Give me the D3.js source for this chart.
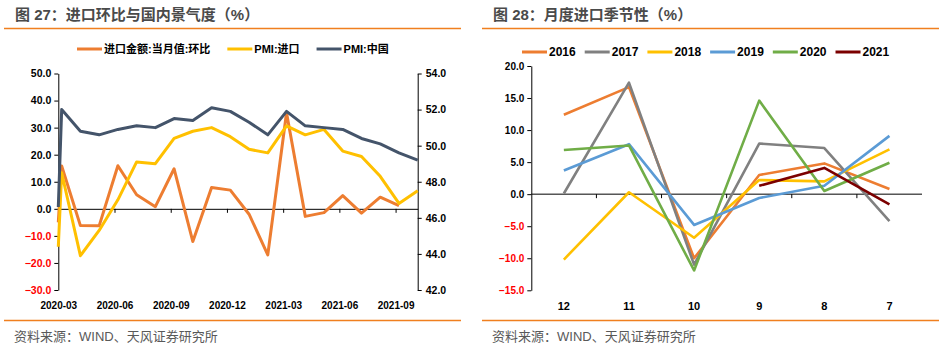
<!DOCTYPE html>
<html>
<head>
<meta charset="utf-8">
<script src="https://cdn.jsdelivr.net/npm/d3@7"></script>
<style>
  body { margin: 0; background: #fff; }
  svg { display: block; font-family: "Liberation Sans", "Noto Sans CJK SC", sans-serif; }
</style>
</head>
<body>
<script>
// ---- left chart data (figure 27) ----
const months = ['2020-02', '2020-03', '2020-04', '2020-05', '2020-06', '2020-07', '2020-08',
  '2020-09', '2020-10', '2020-11', '2020-12', '2021-01', '2021-02', '2021-03', '2021-04',
  '2021-05', '2021-06', '2021-07', '2021-08', '2021-09', '2021-10'];
const importMoM = [-5, 15.8, -6.2, -6.3, 15.9, 5.2, 0.8, 14.8, -12.1, 7.9, 6.9, -2.0, -17.0,
  35.5, -2.8, -1.4, 4.9, -1.6, 4.3, 1.2, null];
const pmiImport = [44.4, 48.5, 43.9, 45.3, 47.0, 49.1, 49.0, 50.4, 50.8, 51.0, 50.5, 49.8, 49.6,
  51.1, 50.6, 50.9, 49.7, 49.4, 48.3, 46.8, 47.5];
const pmiChina = [46.6, 52.0, 50.8, 50.6, 50.9, 51.1, 51.0, 51.5, 51.4, 52.1, 51.9, 51.3, 50.6,
  51.9, 51.1, 51.0, 50.9, 50.4, 50.1, 49.6, 49.2];
const leftTicks = [-30, -20, -10, 0, 10, 20, 30, 40, 50];
const rightTicks = [42, 44, 46, 48, 50, 52, 54];
const leftSeries = [
  { name: '进口金额:当月值:环比', values: importMoM, axis: 'L', color: '#ED7D31' },
  { name: 'PMI:进口', values: pmiImport, axis: 'R', color: '#FFC000' },
  { name: 'PMI:中国', values: pmiChina, axis: 'R', color: '#44546A' }
];

// ---- right chart data (figure 28) ----
const seasonMonths = ['12', '11', '10', '9', '8', '7'];
const y2016 = [12.4, 16.7, -10.0, 3.0, 4.8, 0.8];
const y2017 = [0.1, 17.4, -11.0, 7.9, 7.2, -4.2];
const y2018 = [-10.2, 0.3, -6.8, 2.2, 2.0, 7.0];
const y2019 = [3.7, 7.8, -4.8, -0.6, 1.3, 9.1];
const y2020 = [6.9, 7.6, -11.9, 14.6, 0.5, 4.9];
const y2021 = [null, null, null, 1.3, 4.1, -1.6];
const seasonTicks = [-15, -10, -5, 0, 5, 10, 15, 20];
const years = [
  { name: '2016', values: y2016, color: '#ED7D31' },
  { name: '2017', values: y2017, color: '#808080' },
  { name: '2018', values: y2018, color: '#FFC000' },
  { name: '2019', values: y2019, color: '#5B9BD5' },
  { name: '2020', values: y2020, color: '#70AD47' },
  { name: '2021', values: y2021, color: '#7B0000' }
];

const svg = d3.select('body').append('svg')
  .attr('width', 948)
  .attr('height', 354);

const ORANGE = '#F07F1F';
const fmt = d3.format('.1f');

// panel frame: title, orange rules, source note
function panel(x0, x1, title) {
  svg.append('text')
    .attr('x', x0 + 11).attr('y', 20)
    .attr('font-size', 15).attr('font-weight', 'bold')
    .attr('fill', '#4a4a4a')
    .text(title);
  svg.append('line')
    .attr('x1', x0).attr('x2', x1).attr('y1', 28.5).attr('y2', 28.5)
    .attr('stroke', ORANGE).attr('stroke-width', 1.5);
  svg.append('line')
    .attr('x1', x0).attr('x2', x1).attr('y1', 320.5).attr('y2', 320.5)
    .attr('stroke', ORANGE).attr('stroke-width', 1.5);
  svg.append('text')
    .attr('x', x0 + 10).attr('y', 341)
    .attr('font-size', 13)
    .attr('fill', '#595959')
    .text('资料来源：WIND、天风证券研究所');
}

function legend(items, x0, y, gap, fontSize) {
  let cx = x0;
  items.forEach(s => {
    svg.append('line')
      .attr('x1', cx).attr('x2', cx + 25).attr('y1', y).attr('y2', y)
      .attr('stroke', s.color).attr('stroke-width', 3);
    const t = svg.append('text')
      .attr('x', cx + 27).attr('y', y).attr('dy', '0.36em')
      .attr('font-size', fontSize).attr('font-weight', 'bold')
      .attr('fill', '#000')
      .text(s.name);
    cx += 27 + t.node().getComputedTextLength() + gap;
  });
}

function styleAxis(g, size) {
  g.select('.domain').attr('stroke', '#000');
  g.selectAll('.tick line').attr('stroke', '#000');
  g.selectAll('.tick text')
    .attr('font-size', size).attr('font-weight', 'bold')
    .attr('font-family', '"Liberation Sans", sans-serif');
}

// ================= left chart =================
panel(4, 461, '图 27：进口环比与国内景气度（%）');
legend(leftSeries, 77, 49, 17, 11);

const x = d3.scaleLinear().domain([-0.18, 19]).range([58.3, 417.7]).clamp(true);
const yL = d3.scaleLinear().domain([-30, 50]).range([290, 73.5]);
const yR = d3.scaleLinear().domain([42, 54]).range([290, 73.5]);

const gL = svg.append('g').attr('transform', 'translate(58.3,0)')
  .call(d3.axisLeft(yL).tickValues(leftTicks).tickFormat(fmt).tickSize(4).tickSizeOuter(0).tickPadding(3));
styleAxis(gL, 10.5);
gL.selectAll('.tick text').attr('fill', d => d < 0 ? '#FF0000' : '#000');

const gR = svg.append('g').attr('transform', 'translate(417.7,0)')
  .call(d3.axisRight(yR).tickValues(rightTicks).tickFormat(fmt).tickSize(4).tickSizeOuter(0).tickPadding(4));
styleAxis(gR, 10.5);
gR.selectAll('.tick text').attr('fill', '#000');

// quarterly ticks sit a little before each month's point
const quarterIdx = months.map((m, i) => i).filter(i => i >= 1 && (i - 1) % 3 === 0);
const zeroL = yL(0);
const gX = svg.append('g').attr('transform', 'translate(0,' + zeroL + ')')
  .call(d3.axisBottom(x)
    .tickValues(quarterIdx.map(i => i - 1 - 0.18))
    .tickFormat((d, k) => months[quarterIdx[k]])
    .tickSize(4).tickSizeOuter(0));
styleAxis(gX, 10);
gX.selectAll('.tick text').attr('y', 305 - zeroL).attr('dy', '0.35em').attr('fill', '#000');

leftSeries.forEach(s => {
  const yy = s.axis === 'L' ? yL : yR;
  const line = d3.line()
    .defined(d => d != null)
    .x((d, i) => x(i - 1))
    .y(d => yy(d));
  svg.append('path')
    .datum(s.values)
    .attr('fill', 'none')
    .attr('stroke', s.color)
    .attr('stroke-width', 3)
    .attr('stroke-linejoin', 'round')
    .attr('d', line);
});

// ================= right chart =================
panel(482, 939, '图 28：月度进口季节性（%）');
legend(years, 522, 52, 9, 12);

const xb = d3.scaleBand().domain(seasonMonths).range([531.3, 922]);
const yS = d3.scaleLinear().domain([-15, 20]).range([290.3, 66]);

const gS = svg.append('g').attr('transform', 'translate(531.3,0)')
  .call(d3.axisLeft(yS).tickValues(seasonTicks).tickFormat(fmt).tickSize(4).tickSizeOuter(0).tickPadding(3));
styleAxis(gS, 10);
gS.selectAll('.tick text').attr('fill', d => d < 0 ? '#FF0000' : '#000');

const zeroS = yS(0);
const gSX = svg.append('g').attr('transform', 'translate(0,' + zeroS + ')');
gSX.append('line')
  .attr('x1', xb.range()[0]).attr('x2', xb.range()[1])
  .attr('stroke', '#000');
gSX.selectAll('line.tk')
  .data(seasonMonths.slice(1))
  .enter().append('line')
  .attr('class', 'tk')
  .attr('x1', d => xb(d)).attr('x2', d => xb(d))
  .attr('y1', 0).attr('y2', 4)
  .attr('stroke', '#000');
gSX.selectAll('text')
  .data(seasonMonths)
  .enter().append('text')
  .attr('x', d => xb(d) + xb.bandwidth() / 2)
  .attr('y', 306 - zeroS).attr('dy', '0.35em')
  .attr('text-anchor', 'middle')
  .attr('font-size', 11).attr('font-weight', 'bold')
  .text(d => d);

years.forEach(s => {
  const line = d3.line()
    .defined(d => d != null)
    .x((d, i) => xb(seasonMonths[i]) + xb.bandwidth() / 2)
    .y(d => yS(d));
  svg.append('path')
    .datum(s.values)
    .attr('fill', 'none')
    .attr('stroke', s.color)
    .attr('stroke-width', 2.6)
    .attr('stroke-linejoin', 'round')
    .attr('d', line);
});
</script>
</body>
</html>
